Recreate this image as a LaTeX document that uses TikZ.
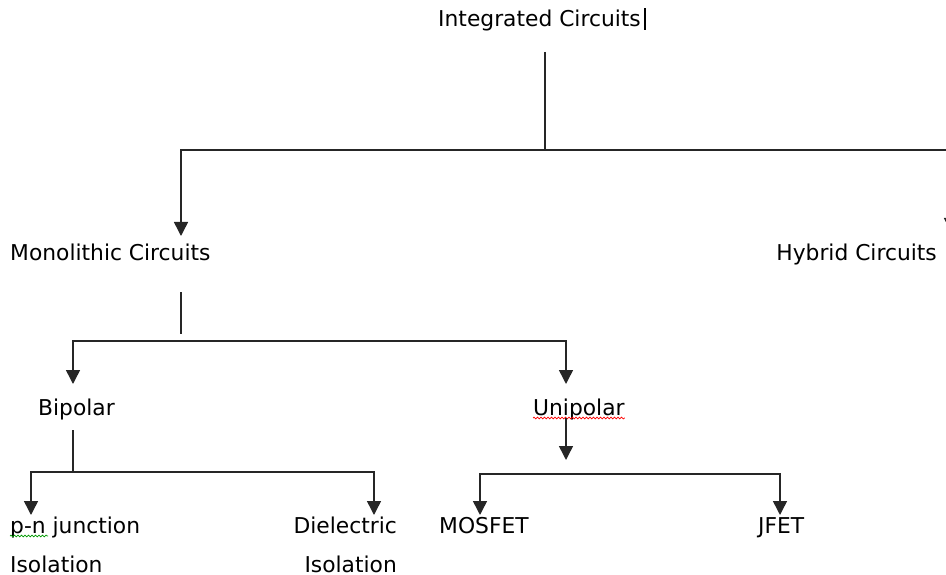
\documentclass[tikz,border=0pt]{standalone}
\usepackage{fontspec}
\setmainfont{DejaVu Sans}
\usetikzlibrary{arrows.meta,positioning,calc,decorations.pathmorphing}

\begin{document}
\begin{tikzpicture}[
    x=1pt, y=-1pt,
    lbl/.style={inner sep=0pt, font=\fontsize{21.8}{40}\selectfont},
    link/.style={line width=1.5pt, black!85},
    arr/.style={link, -{Triangle[width=14pt,length=14pt]}},
    spell/.style={decorate, decoration={snake, amplitude=0.9pt, segment length=3.5pt}, line width=0.7pt}
]
\useasboundingbox (0,0) rectangle (946,575);

% Labels
\node[lbl, anchor=base west] (ic) at (438,27) {Integrated Circuits};
\node[lbl, anchor=base west] (mono) at (10,260) {Monolithic Circuits};
\node[lbl, anchor=base east] (hybrid) at (937,260) {Hybrid Circuits};
\node[lbl, anchor=base west] (bipolar) at (38,415) {Bipolar};
\node[lbl, anchor=base west] (unipolar) at (533,415) {Unipolar};
\node[lbl, anchor=base west] (pnj) at (10,533) {p-n junction};
\node[lbl, anchor=base west] (pnjiso) at (10,572) {Isolation};
\node[lbl, anchor=base east] (diel) at (397,533) {Dielectric};
\node[lbl, anchor=base east] (dieliso) at (397,572) {Isolation};
\node[lbl, anchor=base west] (mosfet) at (439,533) {MOSFET};
\node[lbl, anchor=base west] (jfet) at (758,533) {JFET};

% Text cursor and spell-check marks
\draw[line width=2.4pt] ([xshift=4pt]ic.base east) ++(0,3) -- ++(0,-22);
\draw[spell, red] ([yshift=-3pt]unipolar.base west) -- ([yshift=-3pt]unipolar.base east);
\draw[spell, green!60!black] ([yshift=-3pt]pnj.base west) -- ++(38,0);

% Branch points
\coordinate (icstem) at (545,52);
\coordinate (icfork) at (545,150);
\coordinate (monotip) at (181,236);
\coordinate (hybtip) at (951,232);
\coordinate (monostem) at (181,292);
\coordinate (monoend) at (181,334);
\coordinate (monofork) at (181,341);
\coordinate (biptip) at (73,384);
\coordinate (unitip) at (566,384);
\coordinate (bipstem) at (73,430);
\coordinate (bipfork) at (73,472);
\coordinate (pnjtip) at (31,515);
\coordinate (dieltip) at (374,515);
\coordinate (unistem) at (566,418);
\coordinate (unistemtip) at (566,460);
\coordinate (unifork) at (566,474);
\coordinate (mostip) at (480,515);
\coordinate (jfettip) at (780,515);

% Integrated Circuits
\draw[link] (icstem) -- (icfork);
\draw[arr] (icfork) -| (monotip);
\draw[arr] (icfork) -| (hybtip);

% Monolithic Circuits
\draw[link] (monostem) -- (monoend);
\draw[arr] (monofork) -| (biptip);
\draw[arr] (monofork) -| (unitip);

% Bipolar
\draw[link] (bipstem) -- (bipfork);
\draw[arr] (bipfork) -| (pnjtip);
\draw[arr] (bipfork) -| (dieltip);

% Unipolar
\draw[arr] (unistem) -- (unistemtip);
\draw[arr] (unifork) -| (mostip);
\draw[arr] (unifork) -| (jfettip);

\end{tikzpicture}
\end{document}
